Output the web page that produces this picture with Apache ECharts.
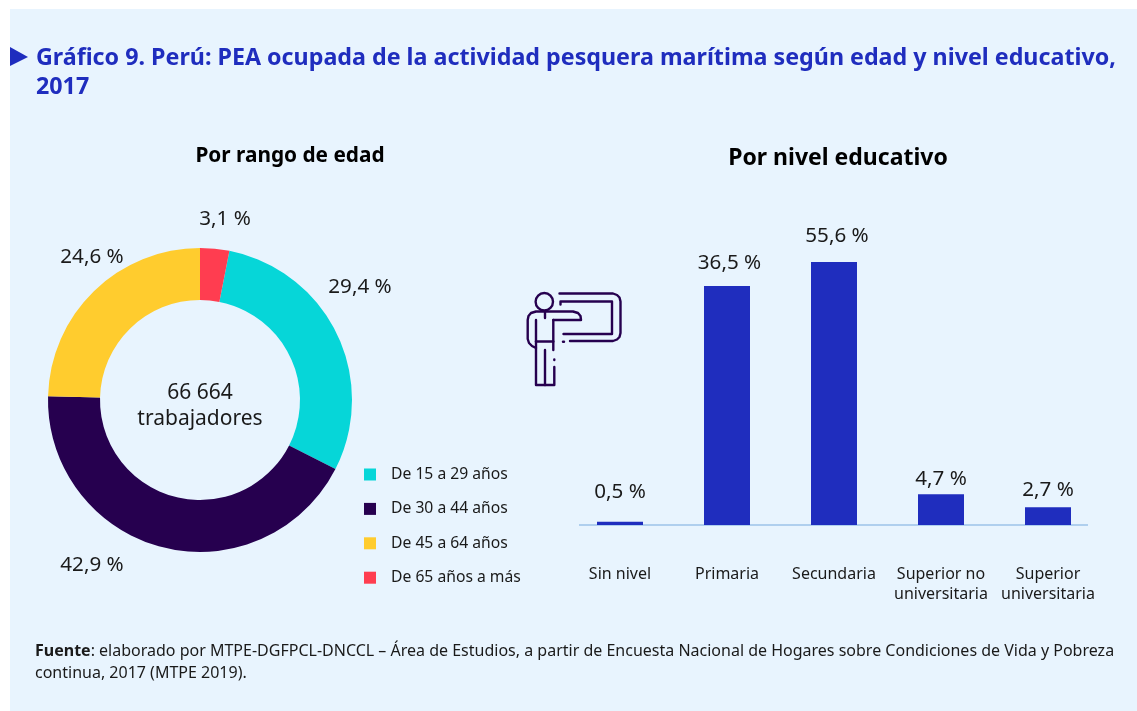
<!DOCTYPE html>
<html><head><meta charset="utf-8">
<style>html,body{margin:0;padding:0;background:#fff}#c{width:1137px;height:711px}</style>
<script src="https://cdn.jsdelivr.net/npm/echarts@6/dist/echarts.min.js"></script></head>
<body><div id="c"></div>
<script>
const ageNames = ['De 15 a 29 años','De 30 a 44 años','De 45 a 64 años','De 65 años a más'];
const ageValues = [29.4,42.9,24.6,3.1];
const ageColors = ['#06D6D8','#26004F','#FFCC2E','#FF3D50'];
const eduNames = ['Sin nivel','Primaria','Secundaria','Superior no\nuniversitaria','Superior\nuniversitaria'];
const eduValues = [0.5,36.5,55.6,4.7,2.7];
const fmt = v => v.toFixed(1).replace('.',',') + ' %';
const F = '"Noto Sans", "Open Sans", sans-serif';
const INK = '#26004F';
const agePos = [[360,287],[92,565.5],[92,257.5],[225,219]];
const barShift = [[0,-7],[2.5,0],[3,-3],[0,7],[0,5]];
const stroke = {fill:null,stroke:INK,lineWidth:2.4,lineCap:'round',lineJoin:'round'};
const icon = [
  [[559.5,293.5],[613,293.5],[617,295],[619.5,297.5],[620.5,301.5],[620.5,333],[619.5,337],[617,339.5],[613,341],[570,341]],
  [[563,341.7],[564,341.7]],
  [[560.5,304.5],[560.5,301.5],[612,301.5],[612,334],[563.5,334]],
  [[545,312],[545,318]],
  [[553.3,320],[581,320],[580.5,316],[578,313],[573,311.5],[536,311.5],[531,313],[528.5,316],[527.7,320],[527.7,339],[529,343],[532,346],[536,348]],
  [[536,320],[536,385],[554.3,385],[554.3,367]],
  [[553.3,320],[553.3,350]],
  [[554.3,359.5],[554.3,360]],
  [[536,341.5],[553.3,341.5]],
  [[545,350],[545,385]]
];
const chart = echarts.init(document.getElementById('c'),null,{renderer:'canvas'});
chart.setOption({
  animation:false,
  backgroundColor:'#fff',
  textStyle:{fontFamily:F},
  title:[
    {text:'Gráfico 9. Perú: PEA ocupada de la actividad pesquera marítima según edad y nivel educativo,\n2017',left:36,top:44,padding:0,textStyle:{fontFamily:F,fontSize:23.25,fontWeight:'bold',color:'#1F2DBE',lineHeight:29}},
    {text:'Por rango de edad',left:290,top:146,padding:0,textAlign:'center',textStyle:{fontFamily:F,fontSize:20.8,fontWeight:'bold',color:'#000'}},
    {text:'Por nivel educativo',left:838,top:147,padding:0,textAlign:'center',textStyle:{fontFamily:F,fontSize:23,fontWeight:'bold',color:'#000'}},
    {text:'66 664\ntrabajadores',left:200,top:380,padding:0,textAlign:'center',textStyle:{fontFamily:F,fontSize:21,fontWeight:'normal',color:'#1a1a1a',lineHeight:26}},
    {text:'{b|Fuente}: elaborado por MTPE-DGFPCL-DNCCL – Área de Estudios, a partir de Encuesta Nacional de Hogares sobre Condiciones de Vida y Pobreza\ncontinua, 2017 (MTPE 2019).',left:35,top:640,padding:0,textStyle:{fontFamily:F,fontSize:16,fontWeight:'normal',color:'#1a1a1a',lineHeight:22,rich:{b:{fontFamily:F,fontSize:16,fontWeight:'bold',color:'#1a1a1a'}}}}
  ],
  legend:{data:ageNames,orient:'vertical',left:364,top:466.5,padding:0,itemWidth:12,itemHeight:12,itemGap:18.4,icon:'rect',
    textStyle:{fontFamily:F,fontSize:15.7,color:'#1a1a1a',padding:[0,0,0,10]}},
  grid:{left:566.5,width:535,top:262,height:263},
  xAxis:{type:'category',data:eduNames,axisLine:{show:false},axisTick:{show:false},
    axisLabel:{fontFamily:F,fontSize:16,color:'#1a1a1a',lineHeight:20,margin:39,interval:0}},
  yAxis:{type:'value',min:0,max:40.15,show:false,splitLine:{show:false}},
  series:[
    {type:'pie',center:[200,400],radius:[100,152],startAngle:90-3.1*3.6,clockwise:true,
     data:ageNames.map((n,i)=>({name:n,value:ageValues[i],itemStyle:{color:ageColors[i]}})),
     label:{show:true,formatter:p=>fmt(p.value),fontFamily:F,fontSize:20.6,color:'#1a1a1a',position:'outside',overflow:'none'},
     labelLine:{show:false},
     labelLayout:p=>({x:agePos[p.dataIndex][0],y:agePos[p.dataIndex][1],align:'center',verticalAlign:'middle'})},
    {type:'bar',data:eduValues,barWidth:46,itemStyle:{color:'#1F2DBE'},clip:true,
     label:{show:true,position:'top',distance:12,formatter:p=>fmt(p.value),fontFamily:F,fontSize:20.6,color:'#1a1a1a'},
     labelLayout:p=>({dx:barShift[p.dataIndex][0],dy:barShift[p.dataIndex][1]}),z:3}
  ],
  graphic:[
    {type:'rect',z:-10,silent:true,shape:{x:10,y:9,width:1127,height:702},style:{fill:'#E8F4FE'}},
    {type:'polygon',shape:{points:[[10,47],[28,57],[10,66]]},style:{fill:'#1F2DBE'}},
    {type:'line',z:2,shape:{x1:579,y1:525,x2:1088,y2:525},style:{stroke:'#9CC3E8',lineWidth:1.5}},
    {type:'circle',shape:{cx:544.3,cy:301.7,r:8.7},style:{fill:null,stroke:INK,lineWidth:2.4}},
    ...icon.map(points=>({type:'polyline',shape:{points},style:stroke}))
  ]
});
</script></body></html>
